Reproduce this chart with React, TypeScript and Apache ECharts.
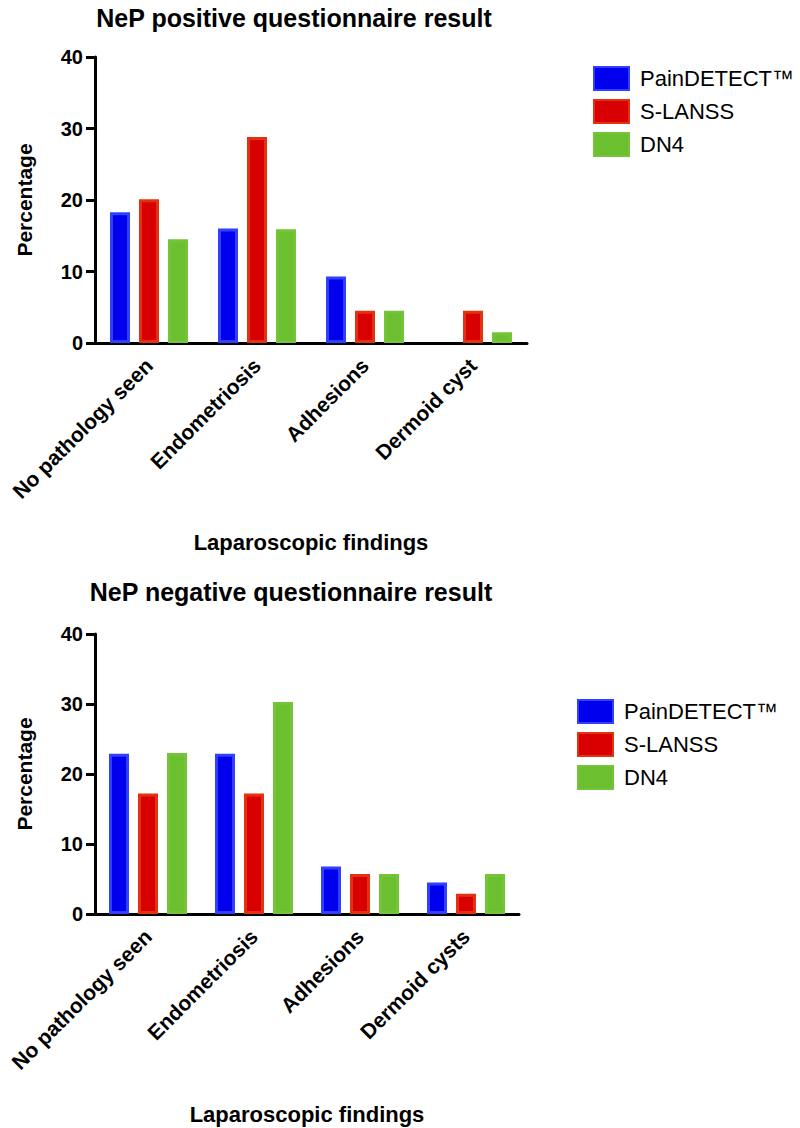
import React, { useEffect, useRef } from "react";
import * as echarts from "echarts";

const seriesNames = ["PainDETECT™", "S-LANSS", "DN4"];
const categoriesTop = ["No pathology seen", "Endometriosis", "Adhesions", "Dermoid cyst"];
const categoriesBottom = ["No pathology seen", "Endometriosis", "Adhesions", "Dermoid cysts"];
const positivePainDetect = [18.3, 16.0, 9.3, 0];
const positiveSLanss = [20.1, 28.8, 4.5, 4.5];
const positiveDn4 = [14.5, 15.9, 4.5, 1.5];
const negativePainDetect = [22.9, 22.9, 6.8, 4.5];
const negativeSLanss = [17.2, 17.2, 5.7, 2.9];
const negativeDn4 = [23.0, 30.3, 5.7, 5.7];
const yTicks = [0, 10, 20, 30, 40];
const titles = ["NeP positive questionnaire result", "NeP negative questionnaire result"];
const xAxisTitle = "Laparoscopic findings";
const yAxisTitle = "Percentage";

const FONT = "'Liberation Sans', Arial, Helvetica, sans-serif";
const fills = ["#0000ee", "#d80000", "#6cc02f"];
const borders = ["#2f40ff", "#e3320f", "#74c43a"];

export default function App() {
  const ref = useRef<HTMLDivElement>(null);
  useEffect(() => {
    document.body.style.margin = "0";
    if (!ref.current) return;
    const chart = echarts.init(ref.current, null, { renderer: "svg" });
    const grids = [
      { left: 95, right: 273, top: 57, bottom: 785 },
      { left: 95, right: 281, top: 634, bottom: 214 },
    ];
    const xAxes = [categoriesTop, categoriesBottom].map((cats, i) => ({
      type: "category",
      gridIndex: i,
      data: cats,
      name: xAxisTitle,
      nameLocation: "middle",
      nameGap: i === 0 ? 188 : 189,
      nameTextStyle: { fontFamily: FONT, fontWeight: "bold", fontSize: 22, color: "#000" },
      axisLine: { lineStyle: { color: "#000", width: 3 } },
      axisTick: { alignWithLabel: true, length: 8, lineStyle: { color: "#000", width: 3 } },
      axisLabel: {
        rotate: 45,
        margin: 19,
        fontFamily: FONT,
        fontWeight: "bold",
        fontSize: 21,
        color: "#000",
        interval: 0,
      },
    }));
    const yAxes = [0, 1].map((i) => ({
      type: "value",
      gridIndex: i,
      min: yTicks[0],
      max: yTicks[yTicks.length - 1],
      interval: yTicks[1] - yTicks[0],
      name: yAxisTitle,
      nameLocation: "middle",
      nameGap: 60,
      nameRotate: 90,
      nameTextStyle: { fontFamily: FONT, fontWeight: "bold", fontSize: 21, color: "#000" },
      splitLine: { show: false },
      axisLine: { show: true, lineStyle: { color: "#000", width: 3 } },
      axisTick: { show: true, length: 9, lineStyle: { color: "#000", width: 3 } },
      axisLabel: { margin: 12, fontFamily: FONT, fontWeight: "bold", fontSize: 20, color: "#000" },
    }));
    const groups = [
      [positivePainDetect, positiveSLanss, positiveDn4],
      [negativePainDetect, negativeSLanss, negativeDn4],
    ];
    const series: any[] = [];
    groups.forEach((g, gi) => {
      g.forEach((vals, si) => {
        series.push({
          type: "bar",
          name: seriesNames[si],
          xAxisIndex: gi,
          yAxisIndex: gi,
          barWidth: 20,
          barGap: "45%",
          data: vals.map((v) => (v === 0 ? { value: v, itemStyle: { borderWidth: 0 } } : v)),
          itemStyle: { color: fills[si], borderColor: borders[si], borderWidth: 3 },
        });
      });
    });
    const legendCommon = {
      orient: "vertical",
      icon: "rect",
      itemWidth: 35,
      itemHeight: 23,
      itemGap: 8,
      data: seriesNames,
      selectedMode: false,
      textStyle: { fontFamily: FONT, fontSize: 22, color: "#000", padding: [0, 0, 0, 6] },
    };
    chart.setOption({
      animation: false,
      backgroundColor: "#fff",
      title: [
        { text: titles[0], left: 289, top: 0, textAlign: "center", textStyle: { fontFamily: FONT, fontWeight: "bold", fontSize: 25, color: "#000" } },
        { text: titles[1], left: 286, top: 574, textAlign: "center", textStyle: { fontFamily: FONT, fontWeight: "bold", fontSize: 25, color: "#000" } },
      ],
      legend: [
        { ...legendCommon, left: 588, top: 61 },
        { ...legendCommon, left: 572, top: 694 },
      ],
      grid: grids,
      xAxis: xAxes,
      yAxis: yAxes,
      series,
    });
    return () => chart.dispose();
  }, []);
  return <div ref={ref} style={{ width: 800, height: 1128 }} />;
}
